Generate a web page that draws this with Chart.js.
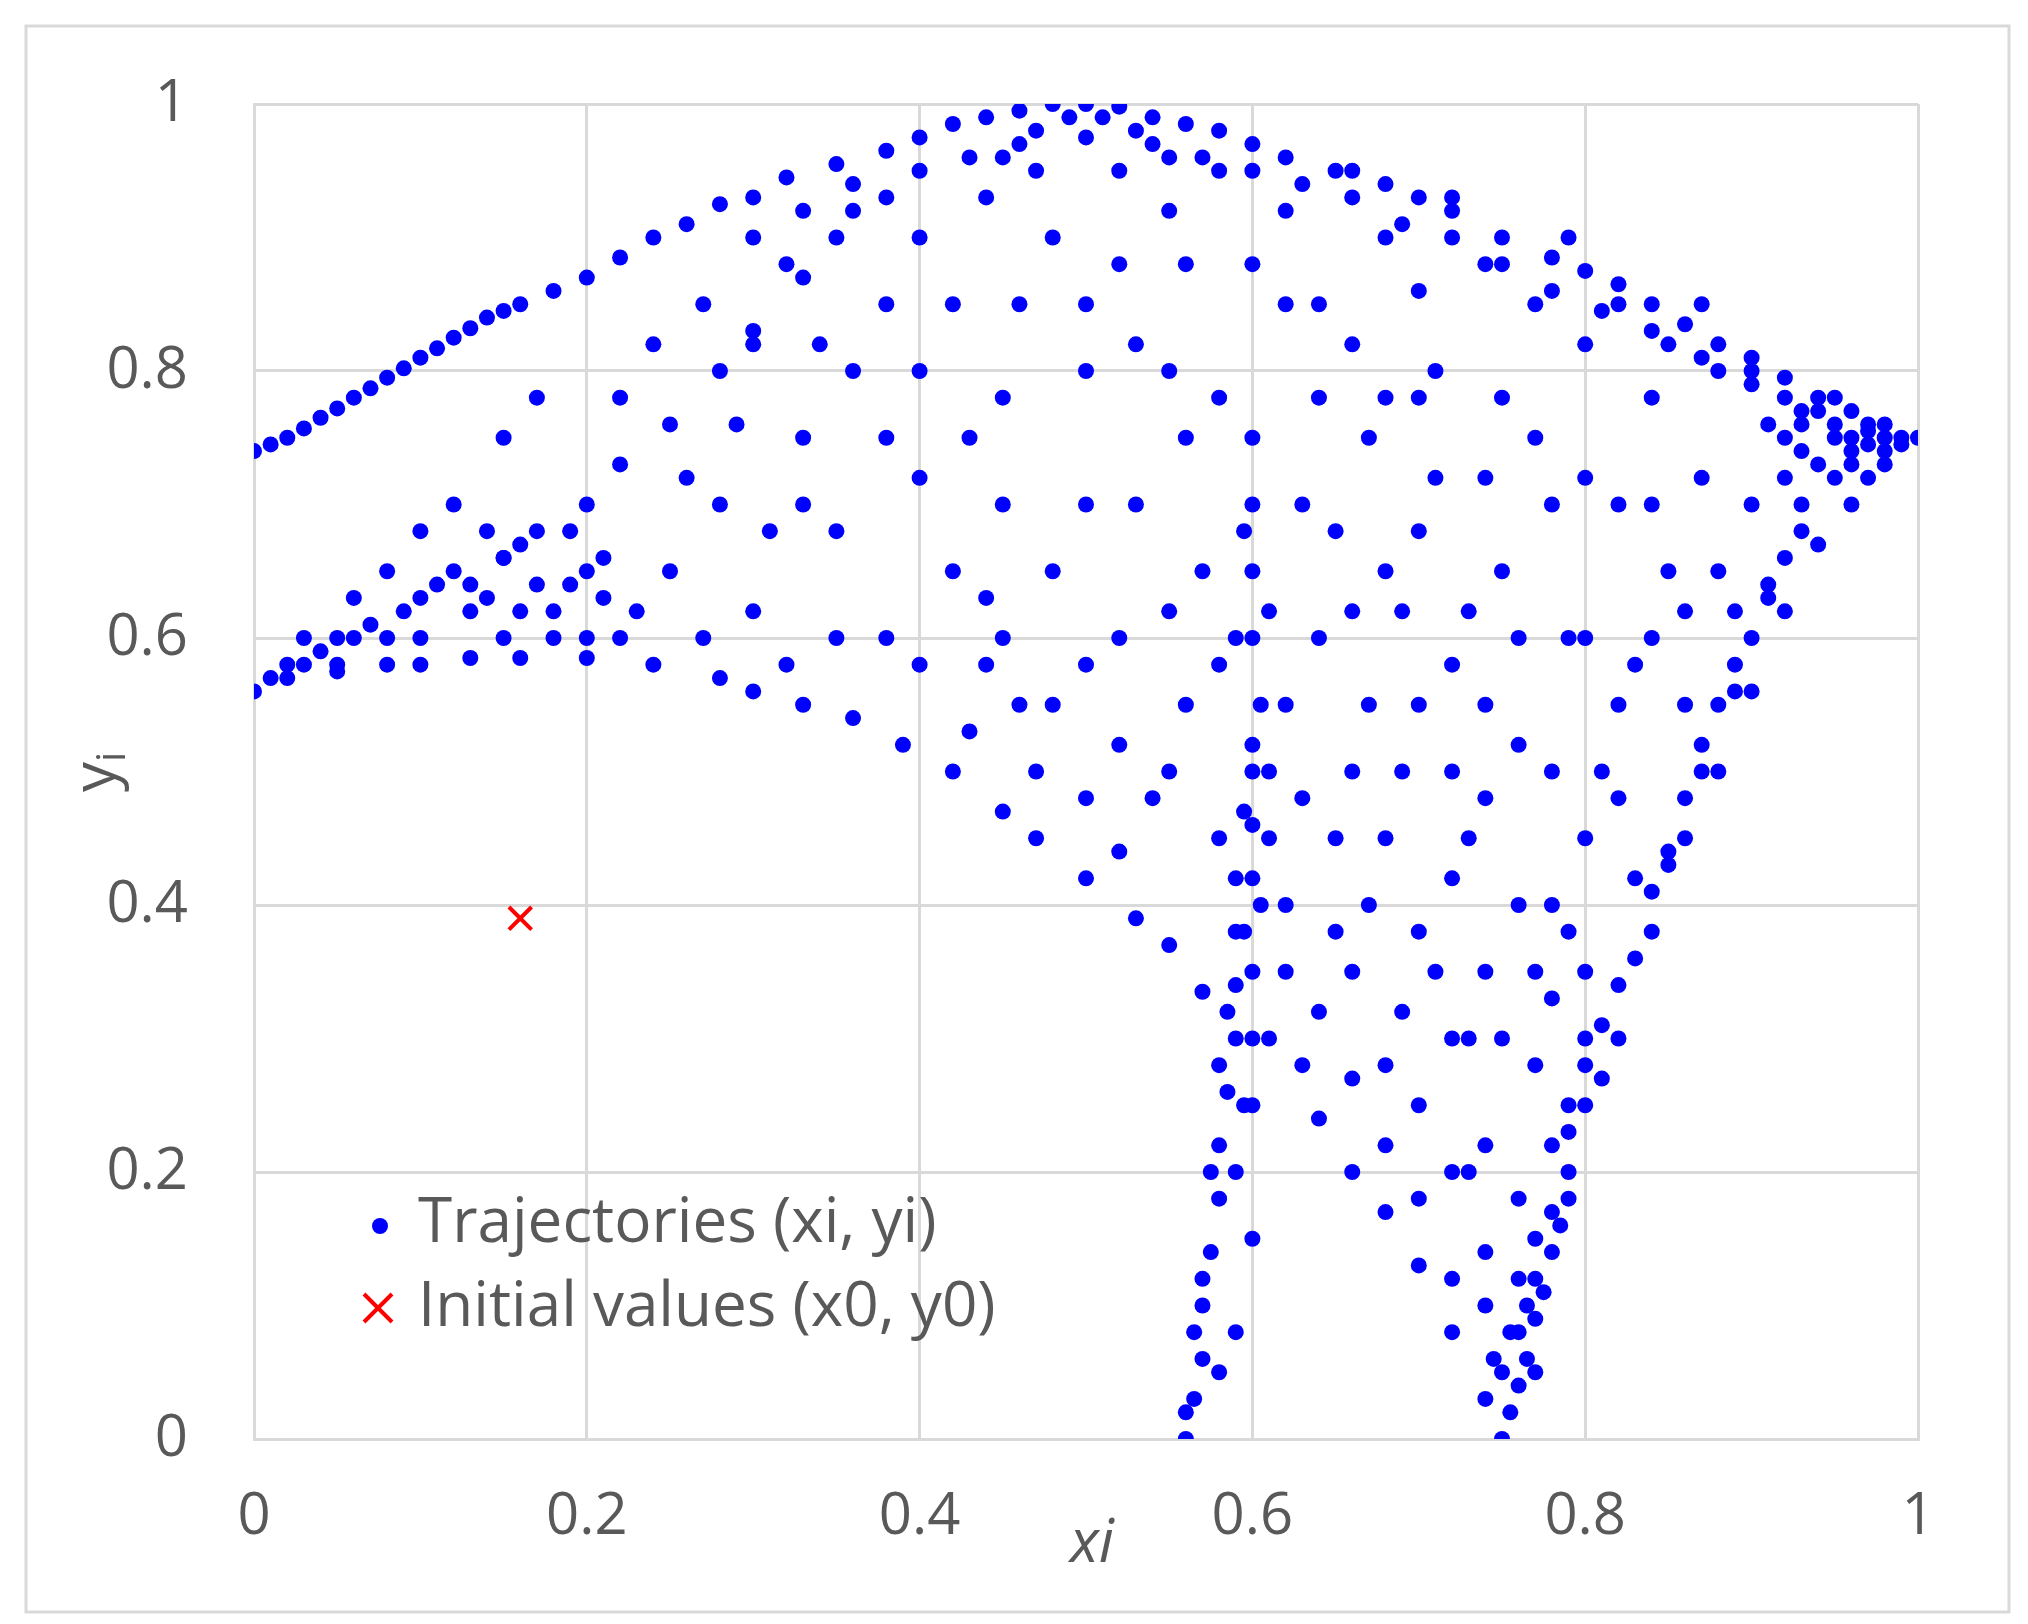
<!DOCTYPE html>
<html><head><meta charset="utf-8">
<script src="https://cdn.jsdelivr.net/npm/chart.js@4"></script>
<style>html,body{margin:0;padding:0;background:#fff}#c{display:block}</style>
</head><body>
<canvas id="c" width="2028" height="1624"></canvas>
<script>
const xTicks=[0,0.2,0.4,0.6,0.8,1];
const yTicks=[0,0.2,0.4,0.6,0.8,1];
const seriesNames=["Trajectories (xi, yi)","Initial values (x0, y0)"];
const initX=[0.16], initY=[0.39];
// hand-estimated trajectory points (x,y pairs)
const trajPairs=[
0,0.74,0.02,0.75,0.04,0.765,0.06,0.78,0.08,0.795,0.1,0.81,0.12,0.825,0.14,0.84,0.16,0.85,0.18,0.86,0.2,0.87,0.22,0.885,0.24,0.9,0.26,0.91,0.28,0.925,0.3,0.93,0.32,0.945,0.35,0.955,0.38,0.965,0.4,0.975,0.42,0.985,0.44,0.99,0.46,0.995,0.48,1.0,0.5,1.0,0.52,0.998,0.54,0.99,0.56,0.985,0.58,0.98,0.6,0.97,0.62,0.96,0.65,0.95,0.68,0.94,0.7,0.93,0.72,0.92,0.75,0.9,0.78,0.885,0.8,0.875,0.82,0.865,0.84,0.85,0.86,0.835,0.88,0.82,0.9,0.81,0.92,0.795,0.94,0.78,0.96,0.77,0.98,0.76,1.0,0.75,
0.01,0.745,0.03,0.757,0.05,0.772,0.07,0.787,0.09,0.802,0.11,0.817,0.13,0.832,0.15,0.845,
0,0.56,0.02,0.57,0.05,0.575,0.08,0.58,0.1,0.58,0.13,0.585,0.16,0.585,0.2,0.585,0.24,0.58,0.28,0.57,0.3,0.56,0.33,0.55,0.36,0.54,0.39,0.52,0.42,0.5,0.45,0.47,0.47,0.45,0.5,0.42,0.53,0.39,0.55,0.37,0.57,0.335,
0.05,0.6,0.1,0.63,0.12,0.65,0.15,0.66,0.17,0.68,0.2,0.7,0.22,0.73,0.25,0.76,0.28,0.8,0.3,0.83,0.33,0.87,0.35,0.9,0.38,0.93,
0.03,0.6,0.06,0.63,0.08,0.65,0.1,0.68,0.12,0.7,0.15,0.75,0.17,0.78,
0.56,0.0,0.565,0.03,0.57,0.06,0.57,0.1,0.575,0.14,0.58,0.18,0.58,0.22,0.585,0.26,0.59,0.3,0.59,0.34,0.595,0.38,0.6,0.42,0.6,0.46,0.6,0.5,0.605,0.55,0.6,0.6,0.6,0.65,0.6,0.7,
0.63,0.28,0.64,0.24,0.66,0.2,0.68,0.17,0.7,0.13,0.72,0.08,0.74,0.03,0.75,0.0,0.76,0.04,0.77,0.09,0.78,0.14,0.79,0.2,0.8,0.25,0.82,0.3,0.84,0.38,0.86,0.45,0.88,0.5,0.9,0.56,0.92,0.62,0.94,0.67,0.96,0.7,0.98,0.73,
0.74,0.1,0.73,0.2,0.72,0.3,0.74,0.35,
0.25,0.65,0.28,0.7,0.3,0.62,0.33,0.75,0.35,0.68,0.36,0.8,0.38,0.6,0.4,0.72,0.42,0.85,0.44,0.63,0.45,0.78,0.46,0.55,0.48,0.9,0.5,0.7,0.52,0.6,0.53,0.82,0.55,0.5,0.55,0.92,0.57,0.65,0.58,0.78,0.62,0.55,0.63,0.7,0.64,0.85,0.65,0.45,0.66,0.62,0.67,0.75,0.68,0.9,0.69,0.5,0.7,0.38,0.7,0.68,0.71,0.8,0.72,0.58,0.73,0.45,0.74,0.88,0.75,0.3,0.75,0.65,0.76,0.52,0.77,0.75,0.78,0.4,0.79,0.6,0.8,0.82,0.81,0.5,0.82,0.7,0.83,0.58,0.84,0.78,0.85,0.65,0.86,0.55,0.87,0.72,0.88,0.8,0.89,0.62,0.9,0.7,0.91,0.76,0.92,0.72,0.93,0.74,0.95,0.75,0.97,0.745,0.62,0.4,0.64,0.32,0.66,0.35,0.68,0.28,0.7,0.25,0.72,0.2,0.74,0.22,0.76,0.18,0.77,0.28,0.78,0.33,0.8,0.35,0.6,0.88,0.62,0.92,0.58,0.95,0.52,0.95,0.47,0.95,0.44,0.93,0.4,0.9,0.36,0.92,0.32,0.88,0.3,0.82,0.27,0.85,0.24,0.82,0.22,0.78,0.2,0.6,0.18,0.62,0.15,0.6,0.13,0.62,0.1,0.6,0.08,0.6,0.23,0.62,0.27,0.6,0.32,0.58,0.35,0.6,0.4,0.58,0.43,0.53,0.47,0.5,0.5,0.48,0.52,0.44,0.54,0.48,0.56,0.55,0.58,0.45,0.59,0.38,0.61,0.3,0.6,0.25,0.6,0.15,0.59,0.08,0.67,0.55,0.69,0.62,0.71,0.72,0.73,0.62,0.75,0.78,0.77,0.85,0.79,0.9,0.82,0.85,0.85,0.82,0.87,0.85,0.9,0.8,0.92,0.78,0.94,0.77,0.96,0.73,0.93,0.68,0.91,0.64,0.89,0.56,0.87,0.5,0.85,0.44,0.83,0.42,0.81,0.27,0.79,0.25,0.78,0.22,0.77,0.12,0.76,0.08,0.74,0.14,0.72,0.12,0.7,0.18,0.68,0.22,0.66,0.27,0.65,0.38,0.63,0.48,0.61,0.62,0.65,0.68,0.68,0.78,0.7,0.86,0.72,0.93,0.66,0.95,0.56,0.88,0.5,0.85,0.45,0.7,0.42,0.65,0.38,0.75,0.34,0.82,0.29,0.76,0.26,0.72,0.21,0.66,0.19,0.68,0.45,0.6,0.5,0.58,0.53,0.7,0.56,0.75,0.58,0.58,
0.3,0.9,0.33,0.92,0.36,0.94,0.4,0.95,0.43,0.96,0.46,0.97,0.5,0.975,0.54,0.97,0.57,0.96,0.6,0.95,0.63,0.94,0.66,0.93,0.69,0.91,0.72,0.9,0.75,0.88,0.78,0.86,0.81,0.845,0.84,0.83,0.87,0.81,0.9,0.79,0.93,0.77,0.95,0.76,0.97,0.755,0.99,0.75,0.49,0.99,0.51,0.99,0.53,0.98,0.47,0.98,0.55,0.96,0.45,0.96,
0.92,0.75,0.94,0.73,0.95,0.72,0.96,0.74,0.97,0.72,0.98,0.74,0.99,0.745,0.97,0.76,0.95,0.78,0.93,0.76,0.96,0.75,0.98,0.75,
0.755,0.02,0.765,0.06,0.77,0.05,0.775,0.11,0.78,0.17,0.785,0.16,0.79,0.23,0.8,0.28,0.81,0.31,0.82,0.34,0.83,0.36,0.84,0.41,0.85,0.43,0.86,0.48,0.87,0.52,0.88,0.55,0.89,0.58,0.9,0.6,0.91,0.63,0.92,0.66,0.93,0.7,0.8,0.3,0.79,0.18,0.77,0.15,0.76,0.12,0.765,0.1,0.75,0.05,0.745,0.06,0.755,0.08,
0.565,0.08,0.575,0.2,0.57,0.12,0.58,0.28,0.585,0.32,0.59,0.42,0.595,0.47,0.6,0.52,0.6,0.35,0.595,0.25,0.59,0.2,0.58,0.05,0.56,0.02,0.605,0.4,0.61,0.45,0.6,0.3,0.59,0.6,0.595,0.68,0.6,0.75,0.61,0.5,0.62,0.35,
0.01,0.57,0.02,0.58,0.03,0.58,0.04,0.59,0.05,0.58,0.06,0.6,0.07,0.61,0.09,0.62,0.11,0.64,0.13,0.64,0.14,0.63,0.16,0.62,0.17,0.64,0.18,0.6,0.19,0.64,0.21,0.63,0.22,0.6,0.15,0.66,0.16,0.67,0.14,0.68,0.2,0.65,
0.64,0.6,0.66,0.5,0.68,0.45,0.7,0.55,0.72,0.5,0.74,0.55,0.76,0.6,0.78,0.7,0.8,0.6,0.82,0.55,0.84,0.6,0.86,0.62,0.88,0.65,0.64,0.78,0.66,0.82,0.7,0.78,0.74,0.72,0.8,0.72,0.84,0.7,0.62,0.85,0.68,0.65,0.72,0.42,0.76,0.4,0.78,0.5,0.8,0.45,0.82,0.48,0.74,0.48,0.67,0.4,0.69,0.32,0.71,0.35,0.73,0.3,0.77,0.35,0.79,0.38,
0.4,0.8,0.43,0.75,0.46,0.85,0.5,0.8,0.52,0.88,0.55,0.8,0.38,0.85,0.33,0.7,0.31,0.68,0.48,0.65,0.52,0.52,0.48,0.55,0.55,0.62,0.44,0.58
];
const trajX=trajPairs.filter((v,i)=>i%2===0);
const trajY=trajPairs.filter((v,i)=>i%2===1);

const FONT='"Open Sans", sans-serif';
const GREY='#595959';
const decor={id:'decor',
 beforeDraw(ch){const c=ch.ctx;c.save();c.fillStyle='#fff';c.fillRect(0,0,ch.width,ch.height);
  c.strokeStyle='#d9d9d9';c.lineWidth=3;c.strokeRect(26,26,1983,1586);c.restore();},
 afterDraw(ch){const c=ch.ctx;c.save();c.fillStyle=GREY;
  c.font='italic 60px '+FONT;c.textAlign='center';c.textBaseline='middle';
  c.fillText('xi',1092,1545);
  c.translate(98,770);c.rotate(-Math.PI/2);c.font='60px '+FONT;c.textAlign='right';c.fillText('y',8,0);
  c.font='40px '+FONT;c.textAlign='left';c.fillText('i',8,16);c.restore();
  // legend
  c.save();c.font='62px '+FONT;c.textBaseline='middle';c.fillStyle=GREY;
  c.fillText(seriesNames[0],418,1224);c.fillText(seriesNames[1],418,1308);
  c.fillStyle='#0000ff';c.beginPath();c.arc(380,1226,8,0,Math.PI*2);c.fill();
  c.strokeStyle='#ff0000';c.lineWidth=4;c.beginPath();c.moveTo(364,1294);c.lineTo(392,1322);c.moveTo(392,1294);c.lineTo(364,1322);c.stroke();
  c.restore();}
};
new Chart(document.getElementById('c'),{
 type:'scatter',
 data:{datasets:[
  {label:seriesNames[0],data:trajX.map((x,i)=>({x,y:trajY[i]})),backgroundColor:'#0000ff',borderColor:'#0000ff',pointRadius:8,borderWidth:0},
  {label:seriesNames[1],data:initX.map((x,i)=>({x,y:initY[i]})),pointStyle:'crossRot',pointRadius:16,borderWidth:4,borderColor:'#ff0000',backgroundColor:'#ff0000'}
 ]},
 options:{responsive:false,animation:false,devicePixelRatio:1,
  layout:{padding:{top:104,right:110,left:0,bottom:0}},
  plugins:{legend:{display:false},tooltip:{enabled:false}},
  scales:{
   x:{type:'linear',min:0,max:1,afterFit(s){s.height=185;},
      afterBuildTicks(s){s.ticks=xTicks.map(v=>({value:v}));},
      ticks:{padding:44,color:GREY,font:{family:FONT,size:58},callback:v=>String(v)},
      grid:{color:'#d9d9d9',lineWidth:3,drawTicks:false},border:{color:'#d9d9d9',width:3}},
   y:{type:'linear',min:0,max:1,afterFit(s){s.width=254;},
      afterBuildTicks(s){s.ticks=yTicks.map(v=>({value:v}));},
      ticks:{padding:66,color:GREY,font:{family:FONT,size:58},callback:v=>String(v)},
      grid:{color:'#d9d9d9',lineWidth:3,drawTicks:false},border:{color:'#d9d9d9',width:3}}
  }},
 plugins:[decor]
});
</script></body></html>
